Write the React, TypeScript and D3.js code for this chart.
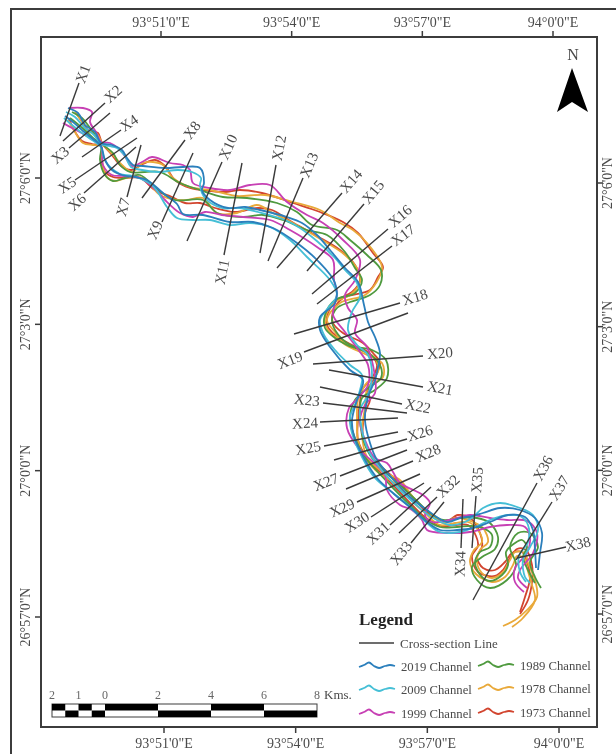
import React from "react";
import * as d3 from "d3";

// Digitised map sheet extent
const sheetX: [number, number] = [41, 597];
const sheetY: [number, number] = [37, 727];

const lonTicks = [51, 54, 57, 60];
const lonLabels = ['93°51\'0"E', '93°54\'0"E', '93°57\'0"E', '94°0\'0"E'];
const latTicks = [6, 3, 0, -3];
const latLabels = ['27°6\'0"N', '27°3\'0"N', '27°0\'0"N', '26°57\'0"N'];

const scaleKm = [-2, -1, 0, 2, 4, 6, 8];
const scaleKmLabels = ["2", "1", "0", "2", "4", "6", "8"];
const scaleTopBlack: [number, number][] = [[-2, -1.5], [-1, -0.5], [0, 2], [4, 6]];
const scaleBottomBlack: [number, number][] = [[-1.5, -1], [-0.5, 0], [2, 4], [6, 8]];

const sectionNames = d3.range(1, 39).map((i) => "X" + i);
const sectionLines = [
  60,136,79,83, 63,141,105,103, 69,148,110,113, 82,157,121,130, 75,180,137,138, 84,193,136,147,
  127,197,141,145, 142,198,185,140, 162,222,193,153, 187,241,222,162, 224,255,242,163, 260,253,276,165,
  268,261,303,178, 277,268,342,193, 307,271,364,204, 312,294,388,229, 317,304,392,246, 294,334,400,303,
  304,352,408,313, 313,364,423,356, 329,370,423,387, 320,387,402,404, 323,403,407,413, 320,422,398,418,
  324,446,398,432, 334,460,407,439, 340,476,407,450, 346,489,413,461, 357,502,420,474, 371,517,424,483,
  390,525,431,487, 399,533,437,497, 411,543,444,502, 461,548,463,499, 472,548,476,496, 473,600,537,483,
  516,560,552,502, 517,558,566,547,
];
const sectionLabelAt = [
  83,74, 113,94, 60,155, 129,123, 67,185, 77,202, 123,207, 192,130, 155,230, 228,147, 222,272, 279,148,
  309,165, 351,181, 373,192, 400,216, 403,235, 415,297, 290,360, 440,353, 440,388, 418,406, 307,400, 305,423,
  308,448, 420,433, 326,482, 428,453, 342,508, 357,522, 378,533, 448,486, 401,553, 460,564, 477,480, 543,468,
  559,488, 578,544,
];

const ch2019A = [68,108,78,113,85,125,95,132,101,143,112,145,122,150,127,158,133,165,143,166,165,168,183,167,200,168,204,183,202,190,210,200,228,208,245,207,260,210,287,217,302,223,317,235,330,250,345,268,358,282,364,305,368,322,375,337,380,353,378,367,375,380,368,397,365,420,370,443,377,460,392,478,410,497,427,510,447,522,460,518,473,516,483,513,500,508,520,510,535,518,542,533,540,553,538,570];
const ch2019B = [65,116,73,122,83,131,93,139,101,146,105,160,112,170,122,175,135,177,147,180,163,193,177,204,183,214,203,215,230,222,253,222,273,228,297,243,317,260,335,283,335,303,320,317,320,330,330,347,350,370,363,380,357,400,352,420,354,436,364,458,377,478,394,494,411,508,427,522,440,530,457,530,473,528,490,522,508,515,525,517,533,530,535,550,536,568];
const ch2009A = [66,112,75,117,84,127,94,135,101,144,109,146,117,148,125,156,131,167,142,170,158,172,178,170,192,172,201,178,200,185,205,198,222,208,240,208,258,212,285,220,300,228,318,242,335,258,345,270,357,283,360,297,352,312,348,330,357,345,368,355,372,375,368,395,360,410,362,430,368,450,380,468,398,488,414,503,430,516,450,525,465,522,473,517,483,508,500,503,520,508,533,515,538,530,530,547,523,560,525,577,530,583];
const ch2009B = [64,118,72,125,82,133,92,140,101,147,104,158,110,167,120,174,133,176,153,186,167,207,177,218,193,220,210,220,230,225,250,223,270,227,290,240,307,257,330,280,337,295,328,308,320,320,324,335,335,350,350,365,362,375,360,390,357,400,350,417,352,433,362,457,375,478,393,493,410,507,427,523,440,532,460,532,475,527,490,520,508,515,520,516,528,525,528,542,519,556,520,572,526,582];
const ch1999A = [69,108,83,108,92,112,90,122,96,132,101,142,110,143,118,148,124,155,132,166,142,162,152,157,170,163,183,165,190,170,193,183,210,188,230,190,250,185,270,185,287,202,307,215,323,223,343,240,360,260,355,280,345,295,348,308,357,320,355,333,367,347,375,377,375,393,365,405,360,420,365,440,375,458,387,463,393,472,400,483,423,495,430,503,425,515,432,522,450,520,470,515,490,518,507,520,527,521,537,533,533,553,520,570,518,578,527,588];
const ch1999B = [63,123,72,128,85,135,101,146,103,165,112,175,124,176,140,178,158,192,165,200,180,213,193,217,205,212,222,215,243,217,270,220,290,230,317,247,333,260,334,280,337,293,335,303,333,315,345,332,360,352,368,365,368,385,358,398,349,408,347,428,360,450,373,462,385,475,387,490,400,505,412,510,422,520,427,530,447,533,470,532,490,527,507,525,525,527,530,538,527,553,515,568,515,582,524,592];
const ch1989A = [72,112,82,118,90,128,101,143,113,153,120,165,130,172,145,172,160,172,180,183,200,190,223,197,247,198,277,203,297,212,312,225,337,230,350,240,367,255,381,270,380,285,370,295,350,302,337,308,332,320,335,330,350,345,372,350,386,360,387,378,375,390,362,398,360,415,362,435,370,455,383,470,400,485,416,500,430,513,443,520,460,518,477,518,490,523,498,537,495,549,482,557,472,567,477,580,490,588,507,580,516,565,510,547,518,533,530,533,538,547,530,562,535,577,541,588];
const ch1989B = [70,118,80,126,92,137,101,146,100,160,105,175,113,181,125,178,140,175,158,190,175,200,203,200,217,213,243,217,263,215,283,220,307,230,327,235,345,252,355,268,362,280,355,293,335,300,325,315,325,328,335,338,347,345,368,353,380,365,381,378,368,388,355,400,350,418,355,438,365,457,378,472,394,489,411,506,425,519,440,527,457,527,472,526,485,529,492,535,490,547,480,552,475,563,482,577,490,581,502,575,508,565,506,552,515,543,522,540,527,547,523,557,528,570,535,583];
const ch1978A = [75,112,82,122,86,131,97,134,102,143,113,155,122,165,132,172,143,163,153,162,163,165,173,178,190,187,210,190,223,193,237,196,265,195,293,202,320,210,340,223,353,230,367,243,382,267,376,283,365,295,340,303,327,320,335,332,343,343,367,355,382,363,383,377,368,387,365,407,362,433,367,457,383,472,400,480,413,497,430,513,443,523,455,518,473,522,483,528,488,542,480,550,477,562,482,573,492,578,503,572,510,560,515,552,525,553,528,563,535,580,537,597,527,610,515,620,503,626];
const ch1978B = [68,120,75,132,83,143,93,145,101,146,102,160,106,176,115,181,126,178,143,178,160,195,177,200,187,200,203,198,217,213,237,213,257,205,273,213,293,223,317,237,345,255,358,270,360,282,350,295,335,302,325,318,328,330,340,340,360,350,375,358,378,372,365,385,358,400,357,420,358,440,365,458,380,474,396,484,410,499,425,513,440,525,455,523,468,522,478,530,482,542,474,550,470,562,476,574,492,582,505,577,513,565,517,556,524,558,527,568,531,582,535,600,523,618,512,627];
const ch1973A = [76,113,83,123,88,130,98,133,102,143,112,155,121,166,131,170,143,164,155,160,165,166,175,180,190,188,210,191,225,192,240,190,262,193,293,203,320,212,343,222,358,233,373,253,383,267,378,277,370,290,343,298,333,312,333,323,343,333,363,343,373,353,380,363,375,377,368,390,370,400,365,413,363,437,372,457,385,470,400,483,417,502,430,515,445,522,458,515,470,518,480,533,482,547,477,557,483,568,495,570,505,562,512,553,522,552,527,562,530,578,525,597,520,612];
const ch1973B = [69,118,74,130,82,141,92,144,101,146,101,160,105,172,113,177,125,178,140,178,155,190,172,197,185,203,200,203,215,208,235,212,258,208,272,210,292,222,315,235,340,250,355,265,360,280,352,292,337,300,328,313,327,325,335,335,352,345,368,352,377,365,372,378,362,390,360,402,358,420,358,440,367,458,380,472,396,488,412,505,426,518,442,526,456,525,468,525,476,536,478,546,472,556,478,572,495,576,503,570,510,558,517,549,526,550,532,565,532,582,528,600,520,614];

const channelYears = ["1973", "1978", "1989", "1999", "2009", "2019"];
const channelColors = ["#d2452f", "#e9a93a", "#4f9a3f", "#c740b4", "#45bfd6", "#2b7fbc"];
const channelBanks = [
  [ch1973A, ch1973B],
  [ch1978A, ch1978B],
  [ch1989A, ch1989B],
  [ch1999A, ch1999B],
  [ch2009A, ch2009B],
  [ch2019A, ch2019B],
];

const legendLeft = ["2019", "2009", "1999"];
const legendRight = ["1989", "1978", "1973"];
const swatchWave: [number, number][] = [[0, 1], [5, -1], [10, -3.5], [15, 0], [20, 2], [26, 0], [31, -1], [36, 0]];

const INK = "#3c3c3c";
const TXT = "#4a4a4a";
const SERIF = "'Liberation Serif', serif";

function pairs(flat: number[]): [number, number][] {
  const out: [number, number][] = [];
  for (let i = 0; i < flat.length; i += 2) out.push([flat[i], flat[i + 1]]);
  return out;
}

export default function App() {
  const x = d3.scaleLinear().domain(sheetX).range([41, 597]);
  const y = d3.scaleLinear().domain(sheetY).range([37, 727]);
  const lonTop = d3.scaleLinear().domain([51, 60]).range([161, 553]);
  const lonBottom = d3.scaleLinear().domain([51, 60]).range([164, 559]);
  const latLeft = d3.scaleLinear().domain([6, -3]).range([178, 617]);
  const latRight = d3.scaleLinear().domain([6, -3]).range([183, 614]);
  const km = d3.scaleLinear().domain([-2, 8]).range([52, 317]);
  const wave = d3.line<[number, number]>().x((d) => d[0]).y((d) => d[1]).curve(d3.curveCatmullRom);
  const bank = d3
    .line<[number, number]>()
    .x((d) => x(d[0]))
    .y((d) => y(d[1]))
    .curve(d3.curveCatmullRom.alpha(0.5));

  const colorOf = (yr: string) => channelColors[channelYears.indexOf(yr)];
  const legendRows = [666, 689, 713];

  return (
    <svg
      width={616}
      height={754}
      style={{ position: "absolute", left: 0, top: 0, filter: "blur(0.6px)", background: "#fff" }}
      fontFamily={SERIF}
    >
      <rect x={11} y={9} width={620} height={760} fill="none" stroke={INK} strokeWidth={2} />
      <rect x={41} y={37} width={556} height={690} fill="#fff" stroke={INK} strokeWidth={2} />

      {lonTicks.map((t, i) => (
        <g key={t} fill={TXT} fontSize={14} textAnchor="middle">
          <line x1={lonTop(t)} x2={lonTop(t)} y1={31} y2={37} stroke={INK} strokeWidth={1.5} />
          <text x={lonTop(t)} y={27}>{lonLabels[i]}</text>
          <line x1={lonBottom(t)} x2={lonBottom(t)} y1={727} y2={733} stroke={INK} strokeWidth={1.5} />
          <text x={lonBottom(t)} y={748}>{lonLabels[i]}</text>
        </g>
      ))}
      {latTicks.map((t, i) => (
        <g key={t} fill={TXT} fontSize={14} textAnchor="middle">
          <line x1={35} x2={41} y1={latLeft(t)} y2={latLeft(t)} stroke={INK} strokeWidth={1.5} />
          <text transform={`translate(30,${latLeft(t)}) rotate(-90)`}>{latLabels[i]}</text>
          <line x1={597} x2={603} y1={latRight(t)} y2={latRight(t)} stroke={INK} strokeWidth={1.5} />
          <text transform={`translate(612,${latRight(t)}) rotate(-90)`}>{latLabels[i]}</text>
        </g>
      ))}

      {channelBanks.map((banks, i) =>
        banks.map((b, j) => (
          <path key={i + "-" + j} d={bank(pairs(b)) || ""} fill="none" stroke={channelColors[i]} strokeWidth={1.8} strokeLinejoin="round" />
        ))
      )}

      {sectionNames.map((name, i) => {
        const [x1, y1, x2, y2] = sectionLines.slice(i * 4, i * 4 + 4);
        const [lx, ly] = sectionLabelAt.slice(i * 2, i * 2 + 2);
        let ang = (Math.atan2(y(y2) - y(y1), x(x2) - x(x1)) * 180) / Math.PI;
        if (ang > 90) ang -= 180;
        if (ang < -90) ang += 180;
        return (
          <g key={name}>
            <line x1={x(x1)} y1={y(y1)} x2={x(x2)} y2={y(y2)} stroke="#3a3a3a" strokeWidth={1.4} />
            <text
              transform={`translate(${x(lx)},${y(ly)}) rotate(${ang})`}
              fontSize={15}
              fill={TXT}
              textAnchor="middle"
              dominantBaseline="central"
            >
              {name}
            </text>
          </g>
        );
      })}

      <text x={573} y={60} fontSize={16} fill={TXT} textAnchor="middle">N</text>
      <path d="M572,68 L588,112 L572,102 L557,112 Z" fill="#000" />

      <text x={359} y={625} fontSize={17} fontWeight="bold" fill="#222">Legend</text>
      <line x1={359} x2={394} y1={643} y2={643} stroke={INK} strokeWidth={1.5} />
      <text x={400} y={648} fontSize={13} fill={TXT}>Cross-section Line</text>
      {legendLeft.map((yr, i) => (
        <g key={yr}>
          <path transform={`translate(359,${legendRows[i]})`} d={wave(swatchWave) || ""} fill="none" stroke={colorOf(yr)} strokeWidth={1.8} />
          <text x={401} y={legendRows[i] + 4.5} fontSize={12.7} fill={TXT}>{yr} Channel</text>
        </g>
      ))}
      {legendRight.map((yr, i) => (
        <g key={yr}>
          <path transform={`translate(478,${legendRows[i] - 1})`} d={wave(swatchWave) || ""} fill="none" stroke={colorOf(yr)} strokeWidth={1.8} />
          <text x={520} y={legendRows[i] + 4} fontSize={12.7} fill={TXT}>{yr} Channel</text>
        </g>
      ))}

      {scaleKm.map((k, i) => (
        <text key={i} x={km(k)} y={699} fontSize={12} fill="#666" textAnchor="middle">{scaleKmLabels[i]}</text>
      ))}
      <text x={324} y={699} fontSize={13} fill={TXT}>Kms.</text>
      <rect x={km(-2)} y={704} width={km(8) - km(-2)} height={13} fill="#fff" stroke={INK} strokeWidth={1} />
      {scaleTopBlack.map(([a, b]) => (
        <rect key={"t" + a} x={km(a)} y={704} width={km(b) - km(a)} height={6.5} fill="#000" />
      ))}
      {scaleBottomBlack.map(([a, b]) => (
        <rect key={"b" + a} x={km(a)} y={710.5} width={km(b) - km(a)} height={6.5} fill="#000" />
      ))}
    </svg>
  );
}
